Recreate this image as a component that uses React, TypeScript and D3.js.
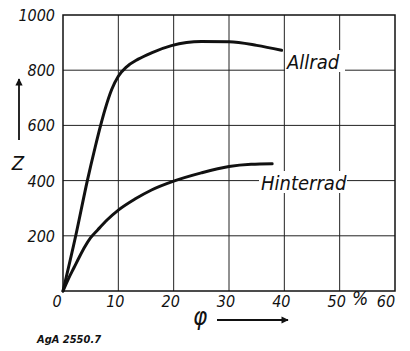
import * as d3 from 'd3'

// Z over φ (%)
const allradPhi = [0, 2.3, 4.4, 5.8, 6.8, 7.6, 8.8, 10, 11.5, 13.6, 16, 19.6, 25, 30, 35, 39.5]
const allradZ = [0, 200, 400, 520, 600, 658, 730, 778, 812, 840, 863, 889, 904, 903, 890, 872]
const hinterPhi = [0, 1, 2, 3, 4, 5, 6.3, 8, 10, 13, 16, 20, 25, 30, 34, 37.8]
const hinterZ = [0, 45, 85, 125, 162, 193, 222, 258, 293, 333, 366, 398, 428, 451, 459, 461]
const xTicks = [0, 10, 20, 30, 40, 50, 60]
const yTicks = [200, 400, 600, 800, 1000]

const W = 410
const H = 351
const font = '"DejaVu Sans Condensed", "DejaVu Sans", sans-serif'

export default function App() {
  const x = d3.scaleLinear().domain([0, 60]).range([63, 395])
  const y = d3.scaleLinear().domain([0, 1000]).range([291, 15])

  const line = d3
    .line<[number, number]>()
    .x(d => x(d[0]))
    .y(d => y(d[1]))
    .curve(d3.curveMonotoneX)

  const allrad = allradPhi.map((p, i) => [p, allradZ[i]] as [number, number])
  const hinter = hinterPhi.map((p, i) => [p, hinterZ[i]] as [number, number])

  // italic labels sit a little left of their grid line
  const xShift = (t: number) => (t === 0 ? -6 : t === 60 ? -9 : -3)

  return (
    <svg
      width={W}
      height={H}
      style={{ position: 'absolute', left: 0, top: 0, background: '#fff' }}
      fontFamily={font}
      fontStyle="italic"
    >
      <defs>
        <marker id="arr" viewBox="0 0 10 10" refX="9" refY="5" markerWidth="6" markerHeight="4" orient="auto">
          <path d="M0,0 L10,5 L0,10 z" fill="#111" />
        </marker>
      </defs>
      <rect width={W} height={H} fill="#fff" />

      {/* grid */}
      {xTicks.slice(1, -1).map(t => (
        <line key={'gx' + t} x1={x(t)} x2={x(t)} y1={y(0)} y2={y(1000)} stroke="#222" strokeWidth={1} />
      ))}
      {yTicks.slice(0, -1).map(t => (
        <line key={'gy' + t} x1={x(0)} x2={x(60)} y1={y(t)} y2={y(t)} stroke="#222" strokeWidth={1} />
      ))}
      <rect
        x={x(0)}
        y={y(1000)}
        width={x(60) - x(0)}
        height={y(0) - y(1000)}
        fill="none"
        stroke="#111"
        strokeWidth={1.5}
      />

      {/* curve labels with white backing */}
      <rect x={285} y={50} width={60} height={22} fill="#fff" />
      <text x={287} y={69} fontSize={20} fill="#111">Allrad</text>
      <rect x={259} y={171} width={88} height={22} fill="#fff" />
      <text x={261} y={190} fontSize={20} fill="#111">Hinterrad</text>

      {/* curves */}
      <path d={line(allrad) ?? ''} fill="none" stroke="#111" strokeWidth={3} strokeLinecap="round" />
      <path d={line(hinter) ?? ''} fill="none" stroke="#111" strokeWidth={3} strokeLinecap="round" />

      {/* y tick labels */}
      {yTicks.map(t => (
        <text key={'ty' + t} x={55} y={y(t) + 6} fontSize={16} textAnchor="end" fill="#111">
          {t}
        </text>
      ))}
      {/* x tick labels */}
      {xTicks.map(t => (
        <text key={'tx' + t} x={x(t) + xShift(t)} y={307} fontSize={16} textAnchor="middle" fill="#111">
          {t}
        </text>
      ))}
      <text x={360} y={305} fontSize={19} textAnchor="middle" fill="#111">%</text>

      {/* axis titles */}
      <text x={18} y={170} fontSize={20} textAnchor="middle" fill="#111">Z</text>
      <line x1={19} y1={140} x2={19} y2={79} stroke="#111" strokeWidth={1.8} markerEnd="url(#arr)" />
      <text x={200} y={325} fontSize={24} textAnchor="middle" fill="#111">φ</text>
      <line x1={217} y1={320} x2={288} y2={320} stroke="#111" strokeWidth={1.8} markerEnd="url(#arr)" />

      <text x={37} y={343} fontSize={11} fontWeight="bold" fill="#111">AgA 2550.7</text>
    </svg>
  )
}
